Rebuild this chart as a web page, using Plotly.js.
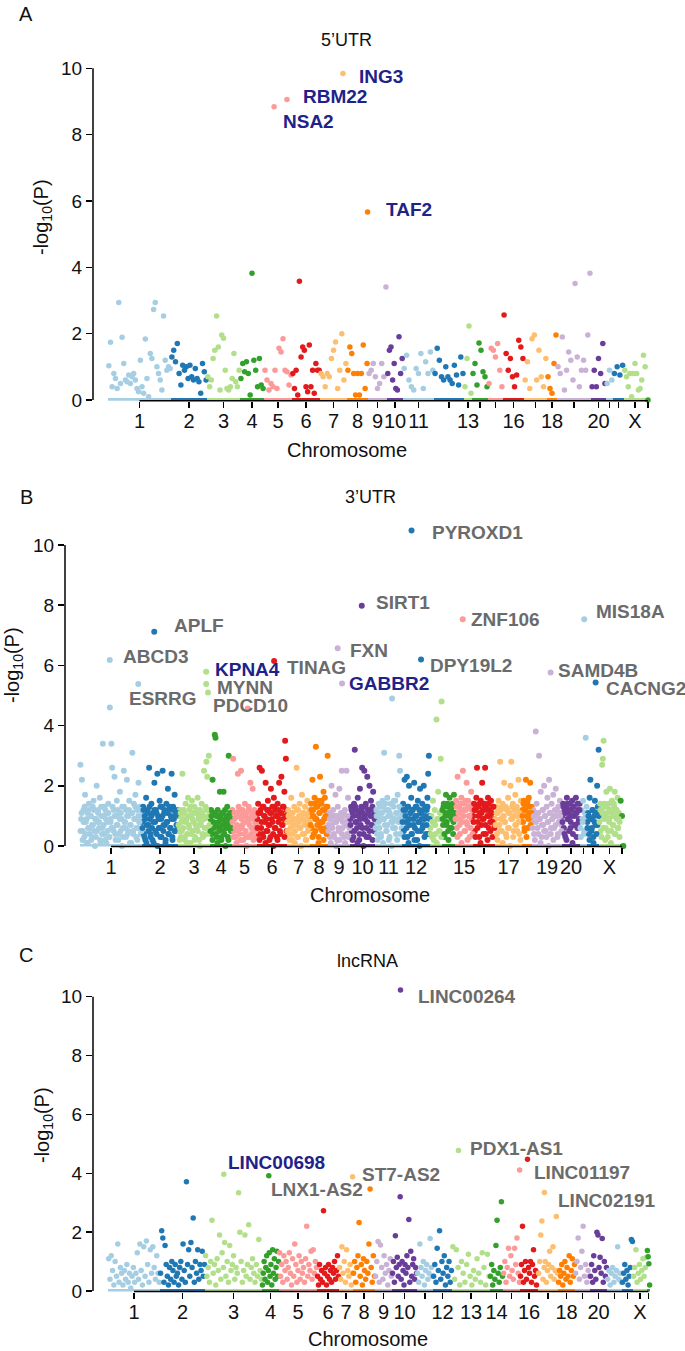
<!DOCTYPE html>
<html><head><meta charset="utf-8">
<script src="https://cdn.plot.ly/plotly-3.0.1.min.js"></script>
<style>html,body{margin:0;padding:0;background:#fff}</style>
</head><body><div id="chart" style="width:685px;height:1351px"></div>
<script>
// ---------------- DATA ----------------
const chromosomes = ['1','2','3','4','5','6','7','8','9','10','11','12','13','14','15','16','17','18','19','20','21','22','X','Y'];
const palette = ['#a6cee3','#1f78b4','#b2df8a','#33a02c','#fb9a99','#e31a1c','#fdbf6f','#ff7f00','#cab2d6','#6a3d9a'];

// relative chromosome spans on the genome axis (per panel)
const spanA = [63,36,33,24,28,28,27,21,19,16,31,30,8,16,15,21,23,10,34,15,7,11,22,4];
const spanB = [62,36,32,22,25,30,23,18,22,25,27,28,12,13,18,22,27,10,30,18,7,12,21,4];
const spanC = [52,45,57,17,38,22,14,22,17,25,16,19,38,13,17,18,20,17,15,17,15,11,14,3];

// chromosome labels shown under each panel
const tickShownA = ['1','2','3','4','5','6','7','8','9','10','11','13','16','18','20','X'];
const tickShownB = ['1','2','3','4','5','6','7','8','9','10','11','12','15','17','19','20','X'];
const tickShownC = ['1','2','3','4','5','6','7','8','9','10','12','13','14','16','18','20','X'];

// ---- Panel A: 5'UTR, -log10(P) per gene, in genome order ----
const utr5_1 = [1.03,1.74,0.4,0.8,0.65,0.35,2.94,0.5,1.89,1.1,0.6,0.55,0.75,0.5,0.7,0.8,0.6,0.35,0.25,1.2,0.4,0.2,1.84,0.65,0.1,1.4,1.25,2.73,2.94,1.0,0.8,0.6,0.3,2.53,1.2,0.9,1.0,0.95];
const utr5_2 = [1.3,1.5,1.15,1.7,0.8,0.45,1.05,0.9,1.0,0.65,1.05,0.7,0.6,0.95,0.65,0.55,0.2,1.1,0.85,0.6];
const utr5_3 = [0.7,0.4,0.6,1.25,1.5,2.53,1.6,0.3,1.96,1.86,0.9,0.35,0.3,0.4,0.65,1.4,0.55,0.4,0.9];
const utr5_4 = [0.65,1.1,0.85,1.15,0.8,0.15,3.82,1.2,0.9,0.4,1.25,0.45,0.35];
const utr5_5 = [0.9,0.6,0.3,0.5,0.4,0.9,0.35,1.56,1.45,1.85,0.9,0.85,0.45,0.75];
const utr5_6 = [0.8,0.35,0.9,0.15,3.58,1.3,1.6,1.5,0.4,0.25,1.66,0.4,0.9,0.2,1.1,0.9,0.9];
const utr5_7 = [0.8,0.7,0.4,0.8,0.7,1.25,1.5,1.75,0.35,0.9,2.0,0.6,1.1];
const utr5_8 = [0.9,1.6,1.4,0.8,0.15,0.8,0.15,0.8,1.66,0.35,1.1];
const utr5_9 = [0.8,0.9,1.1,0.7,0.35,0.5,1.1,0.7,3.41];
const utr5_10 = [0.8,1.5,1.6,0.6,1.1,0.35,0.3,1.91,0.8,1.25];
const utr5_11 = [0.95,1.35,0.6,0.4,0.3,0.95,0.8,1.4,0.35,1.15,0.8,1.45,0.9];
const utr5_12 = [0.8,1.56,1.2,0.7,0.6,1.0,0.7,0.6,0.5,1.05,0.75,0.45,1.3,0.8];
const utr5_13 = [0.4,1.25,2.23,0.2];
const utr5_14 = [0.8,1.1,0.45,1.72,1.5,0.85,0.7,0.4];
const utr5_15 = [0.5,1.56,1.5,1.3,1.7,0.9,0.4];
const utr5_16 = [2.56,1.4,0.9,1.25,0.7,0.4,0.75,1.8,1.6,1.25];
const utr5_17 = [0.6,1.15,0.35,1.85,1.96,0.6,1.5,0.7,0.4,1.25];
const utr5_18 = [0.7,0.35,0.2,1.1,1.96];
const utr5_19 = [1.0,0.8,1.9,0.3,0.9,1.45,1.2,0.6,3.51,1.3,0.4,0.9,1.2,0.9,1.96,3.82];
const utr5_20 = [0.4,0.9,0.4,1.25,0.8,1.7,0.5];
const utr5_21 = [0.5,0.9,0.6];
const utr5_22 = [0.8,1.0,0.75,1.05];
const utr5_X = [0.9,0.7,0.4,0.8,0.1,0.8,1.1,0.8,0.3,0.35,0.6,1.35,1.0];
const utr5_Y = [0];
const utr5HitGene = ['ING3','RBM22','NSA2','TAF2'];
const utr5HitChr = ['7','5','5','8'];
const utr5HitPos = [0.85,0.82,0.36,0.98];
const utr5HitVal = [9.84,9.06,8.84,5.67];

// ---- Panel B: 3'UTR, -log10(P) x10 per gene (first gene set) ----
const utr3_1 = [27,9,22,5,12,3,17,8,1,11,6,14,4,10,2,7,13,15,5,9,3,20,8,12,6,16,1,10,4,34,7,13,2,9,11,5,14,3,46,8,34,26,6,12,23,4,10,15,7,2,11,18,5,9,13,3,25,8,6,12,22,4,10,15,1,7,11,31,5,14,9,17,3,12,6,21,8,13,4,10];
const utr3_2 = [8,13,4,10,2,16,7,12,5,26,9,3,14,6,11,1,21,8,12,4,24,10,6,15,3,9,13,25,5,11,7,2,14,8,19,4,12,6,10,24,3,13,9,17,5,11,7,12];
const utr3_3 = [10,5,12,3,8,24,6,11,2,14,9,4,16,7,12,1,10,15,5,8,13,3,11,6,16,9,2,12,7,14,4,10,25,6,13,28,23,51,30,12];
const utr3_4 = [9,12,4,22,11,6,37,36,10,3,12,8,5,18,10,2,11,7,18,4,12,9,6,13,3,30,8,11,5,9];
const utr3_5 = [12,29,5,9,3,11,7,24,13,4,10,25,6,12,2,8,14,5,11,3,9,13,7,21,4,10,19,6,12,8,3,11];
const utr3_6 = [9,14,4,26,11,6,25,13,3,10,8,21,5,12,15,7,2,11,19,9,13,4,16,6,12,10,3,14,8,21,5,11,23,7,13,9,18,35,29,12];
const utr3_7 = [8,12,4,10,6,16,2,11,7,13,5,9,26,3,12,8,14,6,10,17,4,11,7,13,2,9,15,5,11,8];
const utr3_8 = [10,14,6,22,12,4,16,9,33,13,7,15,3,11,23,8,14,5,12,18,9,16,6,13,10,30];
const utr3_9 = [7,11,3,9,20,6,12,4,10,17,8,2,13,5,19,9,11,25,6,10,3,12,8,25,4,16,9,7];
const utr3_10 = [9,13,5,11,3,14,32,8,12,6,16,10,2,19,7,13,26,11,4,25,9,14,6,23,12,3,20,10,15,7,13,18,5,11];
const utr3_11 = [8,12,4,10,14,6,11,3,9,15,13,31,7,12,5,16,10,2,11,14,8,49,6,13,9,15,4,11,17,8,30,25,12,6];
const utr3_12 = [10,14,5,22,12,8,23,3,13,20,7,11,16,4,12,9,21,6,13,10,2,15,8,12,19,5,11,14,7,20,9,13,4,12,16,24,30,10];
const utr3_13 = [6,10,3,15,8,12,4,42,9,18,5,11,29,48];
const utr3_14 = [12,7,14,3,10,17,8,13,5,11,16,6,12,9,14,4,17,10];
const utr3_15 = [11,15,6,23,9,13,4,12,16,8,25,10,14,5,12,21,7,15,10,3,13,18,9,14];
const utr3_16 = [10,14,5,12,16,26,8,13,3,11,15,7,21,12,9,14,26,4,13,10,16,6,12,8,15,11,3,13,9,7];
const utr3_17 = [9,13,4,11,15,7,28,12,5,14,10,21,8,13,3,12,16,6,11,20,28,9,14,5,12,17,7,13,10,22,4,11,15,8];
const utr3_18 = [12,8,15,5,13,22,10,14,6,16,11,21,9,13];
const utr3_19 = [8,12,4,10,38,14,6,11,30,9,18,3,12,7,20,10,5,13,16,8,22,11,4,14,9,17,6,12,19,10,3,13,8,15,11,7];
const utr3_20 = [10,14,6,12,3,13,16,9,11,5,14,8,12,15,4,13,10,7,16,11,6,12,9,14];
const utr3_21 = [6,12,9,15,4,11,36,13];
const utr3_22 = [8,11,4,16,22,9,6,12,3,10,15,7,11,20,13,32];
const utr3_X = [10,14,5,12,27,29,35,9,13,6,18,11,3,14,8,19,12,5,15,10,7,13,18,4,12,9,16,6,11,8];
const utr3_Y = [15,10,0];
// ---- Panel B: remaining genes of the dense lower band, x10 ----
const utr3b_1 = [5,11,2,8,13,4,9,1,12,6,10,3,7,12,0,9,5,11,8,2,13,6,10,4,12,1,8,11,3,9,6,13,5,10,2,7,12,4,9,11,0,6,13,8,3,10,5,12,7,1,11,4,9,13,6,2,10,8,12,5];
const utr3b_2 = [6,12,3,9,1,11,7,13,4,10,2,8,12,5,11,0,9,6,13,3,10,7,12,1,8,11,4,13,6,9,2,12,5,10,7,11];
const utr3b_3 = [7,2,11,5,9,12,3,8,1,10,6,13,4,9,11,2,7,12,5,10,0,8,11,3,9,6,12,4,10,7];
const utr3b_4 = [5,10,2,8,11,4,7,1,10,6,9,3,11,5,8,0,10,7,2,9,11,6];
const utr3b_5 = [8,3,11,6,1,10,5,12,2,9,7,11,4,10,0,8,12,3,9,6,11,2,10,5,7];
const utr3b_6 = [6,11,2,12,8,4,13,10,1,9,5,12,7,3,11,8,0,13,6,10,2,12,9,4,11,7,13,3,10,5];
const utr3b_7 = [5,10,2,8,11,4,9,1,7,12,3,10,6,0,9,11,4,8,2,10,6,12];
const utr3b_8 = [7,12,3,10,14,5,9,13,1,11,6,15,8,2,12,10,4,13];
const utr3b_9 = [5,9,1,7,10,3,8,0,10,6,2,9,4,8,11,1,7,10,3,6];
const utr3b_10 = [7,12,2,10,5,13,8,1,11,4,9,12,6,0,10,13,3,8,11,5,12,7,2,10,9];
const utr3b_11 = [6,10,2,8,13,4,11,1,9,14,5,7,12,3,10,0,8,15,6,11,2,9,13,4,10];
const utr3b_12 = [8,12,3,10,6,13,1,9,11,4,12,7,2,10,13,5,8,0,11,9,6,12,3,10,7,13,4,9];
const utr3b_13 = [4,8,2,7,1,9,5,3];
const utr3b_14 = [9,13,4,11,7,14,2,10,12,6,13,8,11];
const utr3b_15 = [9,13,3,11,7,14,1,10,12,5,15,8,2,13,10,6,12,4];
const utr3b_16 = [8,12,3,13,6,10,14,1,11,9,4,13,7,12,2,14,10,5,11,8,13,6];
const utr3b_17 = [7,11,2,12,5,9,13,1,10,8,4,12,6,11,0,9,13,3,10,7,12,5,8,11,2,10];
const utr3b_18 = [10,14,6,12,3,15,9,13,7,11];
const utr3b_19 = [6,10,2,8,11,4,9,1,7,12,5,10,3,8,0,11,6,9,2,10,7,12,4,8,10,5];
const utr3b_20 = [8,13,4,11,2,14,9,12,6,10,1,13,7,11,3,14,8,12];
const utr3b_21 = [3,8,5,10];
const utr3b_22 = [6,10,2,9,5,12,1,8,11,4,7,10];
const utr3b_X = [8,12,3,11,6,14,2,10,13,5,9,12,1,11,7,14,4,10,12,6,9,3];
const utr3b_Y = [];
const utr3HitGene = ['PYROXD1','SIRT1','ZNF106','MIS18A','APLF','ABCD3','FXN','DPY19L2','TINAG','KPNA4','MYNN','ESRRG','PDCD10','GABBR2','SAMD4B','CACNG2'];
const utr3HitChr = ['12','10','15','21','2','1','9','12','6','3','3','1','5','9','19','22'];
const utr3HitPos = [0.34,0.47,0.43,0.6,0.34,0.48,0.44,0.68,0.57,0.88,0.88,0.94,0.63,0.64,0.62,0.72];
const utr3HitVal = [10.48,7.98,7.53,7.53,7.12,6.18,6.57,6.2,6.15,5.79,5.38,5.38,4.57,5.4,5.76,5.43];

// ---- Panel C: lncRNA, -log10(P) per gene ----
const lnc_1 = [1.1,0.4,1.2,0.7,0.2,1.0,0.5,1.6,0.3,0.8,0.6,0.2,0.7,0.4,0.9,0.3,0.6,0.1,0.5,0.8,0.3,0.6,1.3,0.4,1.6,0.7,0.2,1.5,0.5,1.7,0.9,0.3,1.4,0.6,1.5,0.8,0.4,1.2,0.6,0.3];
const lnc_2 = [0.6,2.05,1.8,0.3,1.55,0.9,0.5,0.2,0.8,0.4,1.0,0.7,0.3,0.9,0.5,0.6,0.2,0.8,1.0,0.4,1.6,0.7,0.3,3.71,0.9,1.4,0.5,1.65,0.8,2.48,0.3,1.0,0.6,1.4,0.4,0.9,0.7,1.35,0.5,0.9];
const lnc_3 = [1.2,0.5,0.8,0.3,1.0,2.4,0.6,0.9,0.2,1.1,0.7,1.9,0.4,1.3,0.8,1.65,0.5,1.0,0.3,1.55,0.7,0.9,1.2,0.4,0.8,0.6,3.34,2.0,1.0,0.3,0.7,1.9,0.5,0.9,2.25,0.4,0.8,1.1,0.6,0.3,0.9,0.5,1.75,0.7,0.4];
const lnc_4 = [0.2,0.6,1.0,0.4,0.8,1.2,0.3,0.7,1.3,0.5,0.9,0.2,1.4,0.6,1.1,0.4,0.8,1.35,0.5,1.0];
const lnc_5 = [1.3,0.5,0.9,0.3,1.2,0.7,1.0,0.4,0.8,1.3,0.6,0.2,1.1,0.5,1.6,0.9,0.3,0.7,1.2,0.4,1.0,0.6,0.8,0.3,1.1,2.2,0.5,0.9,0.7,1.35,0.4,1.4,0.6,1.0,0.8];
const lnc_6 = [0.5,0.2,0.9,0.4,0.7,0.3,2.73,0.6,0.8,0.2,0.5,0.9,0.4,0.7,0.3,0.8,0.6,1.0,0.4,0.7,1.2,0.5];
const lnc_7 = [0.8,0.4,1.5,0.6,1.0,0.3,1.4,0.7,0.5,0.9,0.2,0.6];
const lnc_8 = [0.6,1.0,0.3,0.8,1.2,2.33,0.5,0.9,0.2,1.1,0.7,0.4,1.0,0.6,1.6,3.47,0.8,0.3,1.2,0.5];
const lnc_9 = [0.5,1.0,1.68,0.3,1.56,0.8,0.4,1.2,0.6,0.9,0.2,0.7,1.1,0.5];
const lnc_10 = [0.6,1.0,0.3,1.88,0.8,1.15,0.5,0.9,3.2,0.4,1.0,0.7,0.2,0.9,0.6,1.2,0.8,2.43,0.3,1.35,0.5,0.9,1.1,0.4,0.8,0.6];
const lnc_11 = [0.6,0.3,1.6,0.8,0.5,1.0,0.2,0.7,0.9,0.4,0.6,1.78,0.8,0.5];
const lnc_12 = [0.5,0.9,0.3,1.45,0.7,2.05,0.4,1.0,0.6,1.2,0.2,0.8,0.5,1.0,0.3,0.7];
const lnc_13 = [1.5,0.4,1.4,0.8,0.2,1.0,0.6,0.3,0.9,1.25,0.5,0.2,0.7,0.4,1.1,0.6,0.3,1.3,0.8,0.2,1.25,0.5];
const lnc_14 = [0.5,0.9,0.2,0.7,0.4,1.55,2.4,0.6,0.3,0.8,3.03,0.5];
const lnc_15 = [0.6,1.0,0.3,0.8,1.45,0.5,1.2,0.7,0.4,1.45,0.9,1.8,0.6,0.3];
const lnc_16 = [0.5,0.9,2.2,0.3,0.7,1.0,0.4,4.48,0.8,0.6,1.0,0.3,0.9,1.4,0.5,0.7,0.2,0.6];
const lnc_17 = [0.6,1.0,1.9,2.38,0.4,0.8,1.0,0.3,0.7,0.9,1.35,0.5,0.8,1.5,0.4,0.7,2.53,0.6];
const lnc_18 = [0.3,0.7,0.5,0.9,0.2,0.6,1.0,0.4,0.8,0.5,1.2,0.3,0.7,1.1,0.5,0.9];
const lnc_19 = [0.6,1.0,1.8,0.4,0.8,1.35,2.2,0.5,0.9,0.3,0.7,0.5];
const lnc_20 = [0.5,0.9,0.3,1.2,0.7,0.4,2.0,1.9,0.8,1.15,0.6,1.78,0.3,1.0,0.5,0.8];
const lnc_21 = [0.4,0.7,0.2,0.6,0.8,0.3,0.5,0.7,1.5,0.4,0.6,0.3];
const lnc_22 = [0.3,0.6,0.9,0.4,0.7,0.2,0.5,0.8,1.75,1.68];
const lnc_X = [0.5,0.8,1.4,0.3,0.6,0.9,0.4,0.7,1.1,0.5,0.8,1.15];
const lnc_Y = [1.38,1.16,0.93,0.2];
const lncHitGene = ['LINC00264','PDX1-AS1','LINC00698','LNX1-AS2','ST7-AS2','LINC01197','LINC02191'];
const lncHitChr = ['10','13','3','4','7','15','17'];
const lncHitPos = [0.34,0.17,0.33,0.4,0.97,0.98,0.32];
const lncHitVal = [10.23,4.77,3.97,3.92,3.88,4.11,3.35];

// ---------------- BUILD ----------------
const W = 685, H = 1351;
const F = 'Liberation Sans, Arial, Helvetica, sans-serif';
const GRAY = '#6b6b6b', NAVY = '#1f2289';
const px = x => x / W, py = y => 1 - y / H;

const panels = [
  { sets:[[utr5_1,utr5_2,utr5_3,utr5_4,utr5_5,utr5_6,utr5_7,utr5_8,utr5_9,utr5_10,utr5_11,utr5_12,utr5_13,utr5_14,utr5_15,utr5_16,utr5_17,utr5_18,utr5_19,utr5_20,utr5_21,utr5_22,utr5_X,utr5_Y]],
    span: spanA, scale: 1, shown: tickShownA,
    hits: {gene:utr5HitGene, chr:utr5HitChr, pos:utr5HitPos, val:utr5HitVal},
    style: { left:93, right:665, y0:400, ppu:33.17, ymin:-0.02, ymax:10.3, off:15, size:5.5,
      lab: [[14,-3,NAVY],[14,3,NAVY],[7,-15,NAVY],[16,2,NAVY]] } },
  { sets:[[utr3_1,utr3_2,utr3_3,utr3_4,utr3_5,utr3_6,utr3_7,utr3_8,utr3_9,utr3_10,utr3_11,utr3_12,utr3_13,utr3_14,utr3_15,utr3_16,utr3_17,utr3_18,utr3_19,utr3_20,utr3_21,utr3_22,utr3_X,utr3_Y],
          [utr3b_1,utr3b_2,utr3b_3,utr3b_4,utr3b_5,utr3b_6,utr3b_7,utr3b_8,utr3b_9,utr3b_10,utr3b_11,utr3b_12,utr3b_13,utr3b_14,utr3b_15,utr3b_16,utr3b_17,utr3b_18,utr3b_19,utr3b_20,utr3b_21,utr3b_22,utr3b_X,utr3b_Y]],
    span: spanB, scale: 10, shown: tickShownB,
    hits: {gene:utr3HitGene, chr:utr3HitChr, pos:utr3HitPos, val:utr3HitVal},
    style: { left:65, right:640, y0:846, ppu:30.1, ymin:-0.02, ymax:10.9, off:15, size:6,
      lab: [[18,-2,GRAY],[12,3,GRAY],[6,0,GRAY],[10,8,GRAY],[18,6,GRAY],[11,3,GRAY],[10,-2,GRAY],[7,-6,GRAY],[11,-7,GRAY],[7,2,NAVY],[9,-3,GRAY],[-11,-14,GRAY],[-37,3,GRAY],[5,0,NAVY],[5,2,GRAY],[8,-6,GRAY]] } },
  { sets:[[lnc_1,lnc_2,lnc_3,lnc_4,lnc_5,lnc_6,lnc_7,lnc_8,lnc_9,lnc_10,lnc_11,lnc_12,lnc_13,lnc_14,lnc_15,lnc_16,lnc_17,lnc_18,lnc_19,lnc_20,lnc_21,lnc_22,lnc_X,lnc_Y]],
    span: spanC, scale: 1, shown: tickShownC,
    hits: {gene:lncHitGene, chr:lncHitChr, pos:lncHitPos, val:lncHitVal},
    style: { left:93, right:665, y0:1291, ppu:29.43, ymin:-0.02, ymax:10.6, off:15, size:5.5,
      lab: [[15,-7,GRAY],[10,2,GRAY],[2,12,NAVY],[0,-14,GRAY],[7,2,GRAY],[12,-2,GRAY],[12,-8,GRAY]] } }
];

const traces = [], annotations = [], shapes = [], layout = {};

panels.forEach((p, k) => {
  const s = k === 0 ? '' : String(k + 1);
  const st = p.style;
  const starts = []; let acc = 0;
  p.span.forEach(w => { starts.push(acc); acc += w; });
  const centers = p.span.map((w, i) => starts[i] + w / 2);

  // zero band per chromosome
  p.span.forEach((w, i) => {
    traces.push({ type:'scatter', mode:'lines', x:[starts[i], starts[i] + w], y:[0, 0],
      xaxis:'x' + s, yaxis:'y' + s, line:{ color: palette[i % 10], width: 4 },
      hoverinfo:'skip', showlegend:false });
  });
  // points (each set evenly spread along its chromosome in genome order)
  const x = [], y = [], c = [];
  p.sets.forEach((set, si) => {
    set.forEach((arr, i) => {
      arr.forEach((v, j) => {
        x.push(starts[i] + (j + 0.5) / arr.length * p.span[i]);
        y.push(v / p.scale);
        c.push(palette[i % 10]);
      });
    });
  });
  const hx = [], hy = [], hc = [];
  p.hits.gene.forEach((g, j) => {
    const i = chromosomes.indexOf(p.hits.chr[j]);
    hx.push(starts[i] + p.hits.pos[j] * p.span[i]);
    hy.push(p.hits.val[j]);
    hc.push(palette[i % 10]);
    const L = st.lab[j];
    annotations.push({ xref:'x' + s, yref:'y' + s, x: hx[j], y: hy[j], text:'<b>' + g + '</b>',
      showarrow:false, xanchor:'left', yanchor:'middle', xshift:L[0], yshift:L[1],
      font:{ family:F, size:19, color:L[2] } });
  });
  traces.push({ type:'scatter', mode:'markers', x: x.concat(hx), y: y.concat(hy),
    xaxis:'x' + s, yaxis:'y' + s, cliponaxis:false, hoverinfo:'skip', showlegend:false,
    marker:{ size: st.size, color: c.concat(hc), line:{ width:0 } } });

  const plotW = st.right - st.left;
  const bottomPx = st.y0 - st.ymin * st.ppu, topPx = st.y0 - st.ymax * st.ppu;
  layout['xaxis' + s] = { domain:[px(st.left), px(st.right)], range:[-st.off, plotW - st.off],
    anchor:'y' + s, showgrid:false, zeroline:false, showline:false,
    ticks:'outside', ticklen:6, tickwidth:1.5, tickcolor:'#000', tickangle:0,
    tickvals: centers, ticktext: chromosomes.map(ch => p.shown.includes(ch) ? ch : ' '),
    tickfont:{ family:F, size:20, color:'#111' }, ticklabelstandoff:-4, fixedrange:true };
  layout['yaxis' + s] = { domain:[py(bottomPx), py(topPx)], range:[st.ymin, st.ymax],
    anchor:'x' + s, showgrid:false, zeroline:false, showline:false,
    ticks:'outside', ticklen:6, tickwidth:1.5, tickcolor:'#000',
    tickvals:[0,2,4,6,8,10], tickfont:{ family:F, size:19, color:'#111' }, fixedrange:true };
  shapes.push({ type:'line', xref:'x' + s, yref:'y' + s + ' domain', x0: centers[0], x1: centers[centers.length - 1],
    y0:0, y1:0, line:{ color:'#000', width:1.5 } });
  shapes.push({ type:'line', xref:'x' + s + ' domain', yref:'y' + s, x0:0, x1:0, y0:0, y1:10,
    line:{ color:'#000', width:1.5 } });
});

// panel texts (paper positions)
const texts = [
  ['A', 26, 14, 20, 0], ['B', 26, 497, 20, 0], ['C', 26, 955, 20, 0],
  ['5’UTR', 346, 40, 18, 0], ['3’UTR', 370, 497, 18, 0], ['lncRNA', 367, 961, 18, 0],
  ['Chromosome', 347, 450, 20, 0], ['Chromosome', 370, 895, 20, 0], ['Chromosome', 368, 1339, 20, 0],
  ['-log<sub>10</sub>(P)', 42, 217, 20, -90], ['-log<sub>10</sub>(P)', 13, 665, 20, -90], ['-log<sub>10</sub>(P)', 43, 1125, 20, -90]
];
texts.forEach(t => annotations.push({ xref:'paper', yref:'paper', x: px(t[1]), y: py(t[2]), text: t[0],
  showarrow:false, xanchor:'center', yanchor:'middle', textangle: t[4],
  font:{ family:F, size:t[3], color:'#111' } }));

Object.assign(layout, { width:W, height:H, margin:{ l:0, r:0, t:0, b:0 },
  paper_bgcolor:'#fff', plot_bgcolor:'#fff', showlegend:false, annotations, shapes });

Plotly.newPlot('chart', traces, layout, { staticPlot:true, displayModeBar:false });
</script></body></html>
